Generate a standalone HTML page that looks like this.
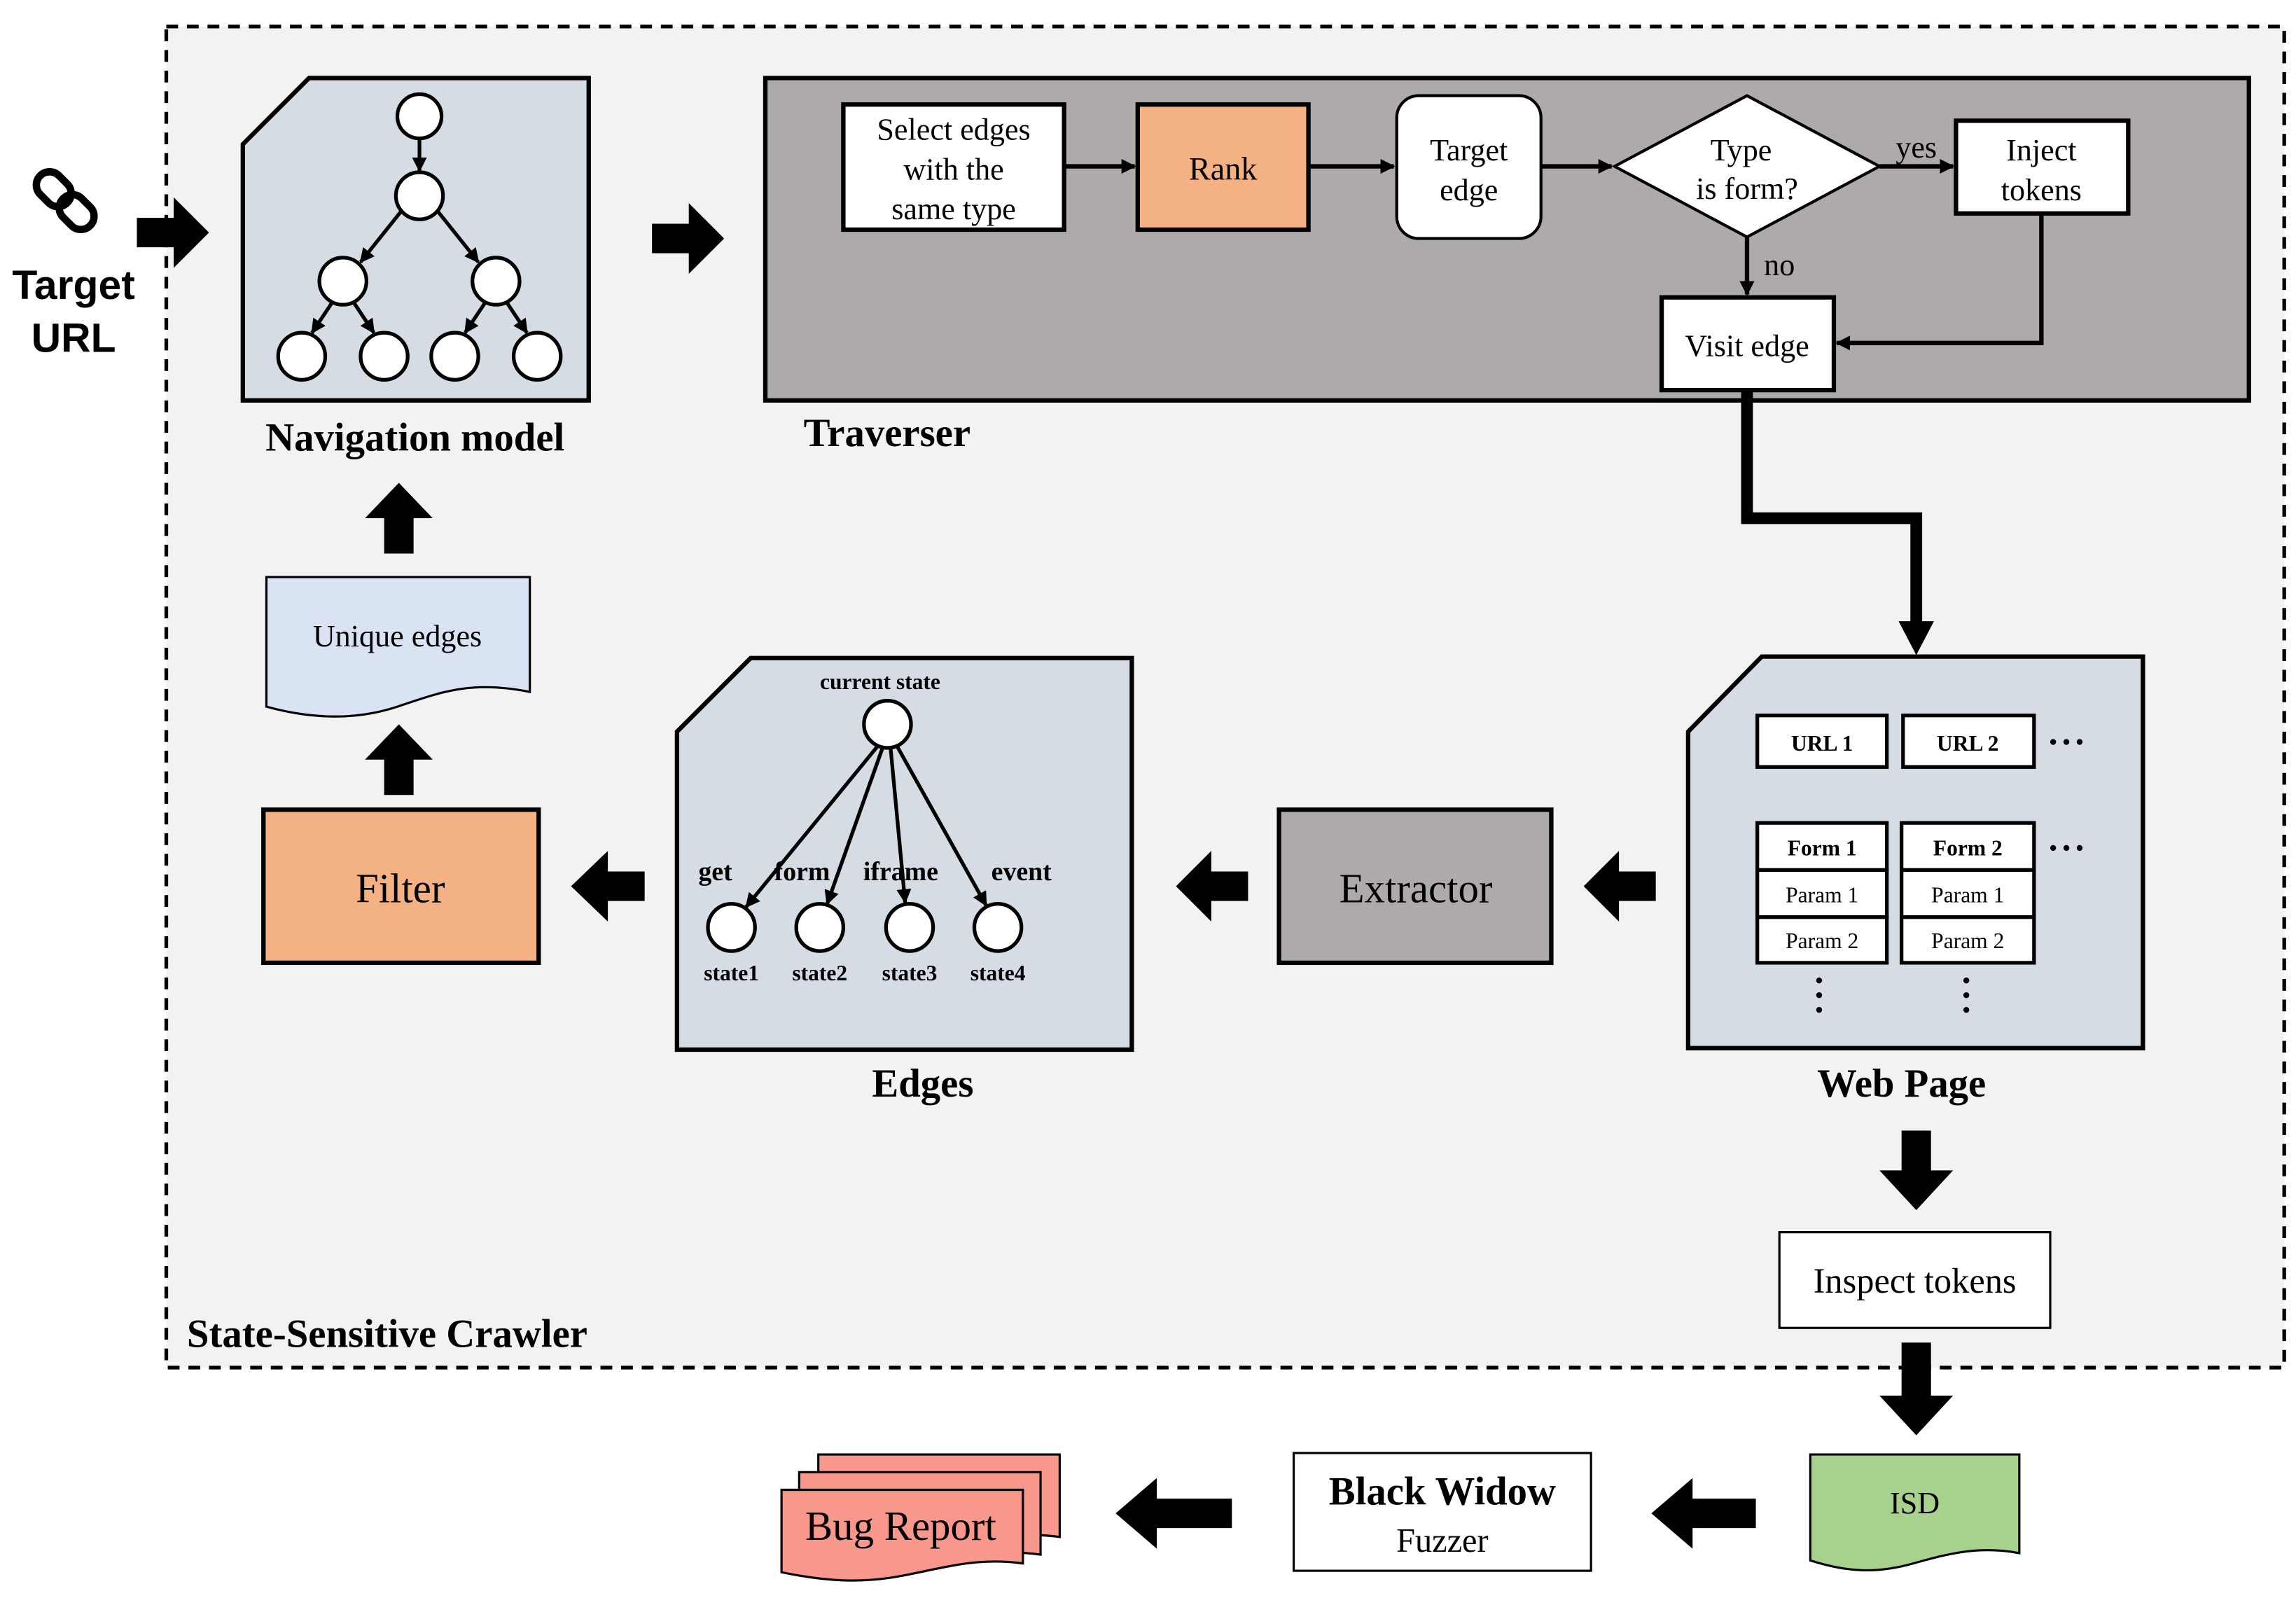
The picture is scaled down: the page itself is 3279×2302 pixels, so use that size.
<!DOCTYPE html>
<html><head><meta charset="utf-8"><style>
html,body{margin:0;padding:0;background:#fff;}
svg{display:block;}
text{font-family:"Liberation Serif",serif;}
</style></head><body>
<svg width="3279" height="2302" viewBox="0 0 1560 1095" preserveAspectRatio="none" xmlns="http://www.w3.org/2000/svg">
<defs>
<marker id="ah" markerWidth="10" markerHeight="10" refX="9" refY="5" orient="auto" markerUnits="userSpaceOnUse"><path d="M0,0 L10,5 L0,10 z" fill="#000"/></marker>
<marker id="ah2" markerWidth="12" markerHeight="12" refX="11" refY="6" orient="auto" markerUnits="userSpaceOnUse"><path d="M0,0 L12,6 L0,12 z" fill="#000"/></marker>
</defs>
<rect x="0" y="0" width="1560" height="1095" fill="#fff"/>
<rect x="113" y="18" width="1439" height="911" fill="#f2f2f2" stroke="#000" stroke-width="2.5" stroke-dasharray="8,6"/>

<!-- link icon -->
<g stroke="#000" stroke-width="5" fill="none" transform="rotate(45 45 137)">
<rect x="20" y="128" width="26" height="18" rx="9"/>
<rect x="42" y="128" width="26" height="18" rx="9"/>
</g>
<text x="50" y="203" font-family="Liberation Sans" font-weight="bold" font-size="28" text-anchor="middle" style="font-family:'Liberation Sans',sans-serif">Target</text>
<text x="50" y="239" font-weight="bold" font-size="28" text-anchor="middle" style="font-family:'Liberation Sans',sans-serif">URL</text>
<polygon points="93,148 118,148 118,134 142,158 118,182 118,168 93,168" fill="#000"/>

<!-- navigation model -->
<polygon points="165,98 210,53 400,53 400,272 165,272" fill="#d6dce4" stroke="#000" stroke-width="3"/>
<g stroke="#000" stroke-width="2.5" fill="none">
<line x1="285" y1="94" x2="285" y2="116" marker-end="url(#ah)"/>
<line x1="273" y1="143" x2="245" y2="178" marker-end="url(#ah)"/>
<line x1="297" y1="143" x2="325" y2="178" marker-end="url(#ah)"/>
<line x1="226" y1="205" x2="212" y2="226" marker-end="url(#ah)"/>
<line x1="240" y1="205" x2="254" y2="226" marker-end="url(#ah)"/>
<line x1="330" y1="205" x2="316" y2="226" marker-end="url(#ah)"/>
<line x1="344" y1="205" x2="358" y2="226" marker-end="url(#ah)"/>
</g>
<g fill="#fff" stroke="#000" stroke-width="2.5">
<circle cx="285" cy="79" r="15"/><circle cx="285" cy="133" r="16"/>
<circle cx="233" cy="191" r="16"/><circle cx="337" cy="191" r="16"/>
<circle cx="205" cy="242" r="16"/><circle cx="261" cy="242" r="16"/>
<circle cx="309" cy="242" r="16"/><circle cx="365" cy="242" r="16"/>
</g>
<text x="282" y="306" font-weight="bold" font-size="27" text-anchor="middle">Navigation model</text>

<polygon points="443,152 468,152 468,138 492,162 468,186 468,172 443,172" fill="#000"/>

<!-- traverser -->
<rect x="520" y="53" width="1008" height="219" fill="#aeaaaa" stroke="#000" stroke-width="3"/>
<text x="546" y="303" font-weight="bold" font-size="27">Traverser</text>
<rect x="573" y="71" width="150" height="85" fill="#fff" stroke="#000" stroke-width="3"/>
<text x="648" y="95" font-size="21" text-anchor="middle">Select edges</text>
<text x="648" y="122" font-size="21" text-anchor="middle">with the</text>
<text x="648" y="149" font-size="21" text-anchor="middle">same type</text>
<rect x="773" y="71" width="116" height="85" fill="#f4b183" stroke="#000" stroke-width="3"/>
<text x="831" y="122" font-size="22" text-anchor="middle">Rank</text>
<rect x="949" y="65" width="98" height="97" rx="15" fill="#fff" stroke="#000" stroke-width="2"/>
<text x="998" y="109" font-size="21" text-anchor="middle">Target</text>
<text x="998" y="136" font-size="21" text-anchor="middle">edge</text>
<polygon points="1097,113 1187,65 1277,113 1187,161" fill="#fff" stroke="#000" stroke-width="2"/>
<text x="1183" y="109" font-size="21" text-anchor="middle">Type</text>
<text x="1187" y="135" font-size="21" text-anchor="middle">is form?</text>
<rect x="1329" y="82" width="117" height="63" fill="#fff" stroke="#000" stroke-width="3"/>
<text x="1387" y="109" font-size="21" text-anchor="middle">Inject</text>
<text x="1387" y="136" font-size="21" text-anchor="middle">tokens</text>
<rect x="1129" y="202" width="117" height="63" fill="#fff" stroke="#000" stroke-width="3"/>
<text x="1187" y="242" font-size="21" text-anchor="middle">Visit edge</text>
<g stroke="#000" stroke-width="3" fill="none">
<line x1="723" y1="113" x2="771" y2="113" marker-end="url(#ah)"/>
<line x1="889" y1="113" x2="947" y2="113" marker-end="url(#ah)"/>
<line x1="1047" y1="113" x2="1095" y2="113" marker-end="url(#ah)"/>
<line x1="1277" y1="113" x2="1327" y2="113" marker-end="url(#ah)"/>
<line x1="1187" y1="161" x2="1187" y2="200" marker-end="url(#ah)"/>
<polyline points="1387,145 1387,233 1248,233" marker-end="url(#ah)"/>
</g>
<text x="1302" y="107" font-size="21" text-anchor="middle">yes</text>
<text x="1209" y="187" font-size="21" text-anchor="middle">no</text>

<polyline points="1187,265 1187,352 1302,352 1302,430" fill="none" stroke="#000" stroke-width="8"/>
<polygon points="1290,422 1314,422 1302,445" fill="#000"/>

<!-- web page -->
<polygon points="1147,497 1197,446 1456,446 1456,712 1147,712" fill="#d6dce4" stroke="#000" stroke-width="3"/>
<text x="1292" y="745" font-weight="bold" font-size="27" text-anchor="middle">Web Page</text>
<g fill="#fff" stroke="#000" stroke-width="2.5">
<rect x="1194" y="486" width="88" height="35"/><rect x="1293" y="486" width="89" height="35"/>
<rect x="1194" y="559" width="88" height="32"/><rect x="1194" y="591" width="88" height="32"/><rect x="1194" y="623" width="88" height="31"/>
<rect x="1292" y="559" width="90" height="32"/><rect x="1292" y="591" width="90" height="32"/><rect x="1292" y="623" width="90" height="31"/>
</g>
<g font-size="15" text-anchor="middle">
<text x="1238" y="510" font-weight="bold">URL 1</text><text x="1337" y="510" font-weight="bold">URL 2</text>
<text x="1238" y="581" font-weight="bold">Form 1</text><text x="1337" y="581" font-weight="bold">Form 2</text>
<text x="1238" y="613">Param 1</text><text x="1337" y="613">Param 1</text>
<text x="1238" y="644">Param 2</text><text x="1337" y="644">Param 2</text>
</g>
<g fill="#000">
<circle cx="1395" cy="504" r="2"/><circle cx="1404" cy="504" r="2"/><circle cx="1413" cy="504" r="2"/>
<circle cx="1395" cy="576" r="2"/><circle cx="1404" cy="576" r="2"/><circle cx="1413" cy="576" r="2"/>
<circle cx="1236" cy="666" r="2"/><circle cx="1236" cy="676" r="2"/><circle cx="1236" cy="686" r="2"/>
<circle cx="1336" cy="666" r="2"/><circle cx="1336" cy="676" r="2"/><circle cx="1336" cy="686" r="2"/>
<circle cx="725" cy="630" r="2"/><circle cx="735" cy="630" r="2"/><circle cx="745" cy="630" r="2"/>
</g>

<!-- extractor -->
<rect x="869" y="550" width="185" height="104" fill="#aeaaaa" stroke="#000" stroke-width="3"/>
<text x="962" y="613" font-size="28" text-anchor="middle">Extractor</text>
<polygon points="1125,592 1100,592 1100,578 1076,602 1100,626 1100,612 1125,612" fill="#000"/>
<polygon points="848,592 823,592 823,578 799,602 823,626 823,612 848,612" fill="#000"/>
<polygon points="438,592 413,592 413,578 388,602 413,626 413,612 438,612" fill="#000"/>

<!-- edges -->
<polygon points="460,497 510,447 769,447 769,713 460,713" fill="#d6dce4" stroke="#000" stroke-width="3"/>
<text x="598" y="468" font-weight="bold" font-size="15" text-anchor="middle">current state</text>
<g stroke="#000" stroke-width="2.5">
<line x1="597" y1="506" x2="507" y2="616" marker-end="url(#ah)"/>
<line x1="600" y1="507" x2="562" y2="614" marker-end="url(#ah)"/>
<line x1="605" y1="507" x2="615" y2="613" marker-end="url(#ah)"/>
<line x1="609" y1="506" x2="670" y2="615" marker-end="url(#ah)"/>
</g>
<g fill="#fff" stroke="#000" stroke-width="2.5">
<circle cx="603" cy="492" r="16"/>
<circle cx="497" cy="630" r="16"/><circle cx="557" cy="630" r="16"/><circle cx="618" cy="630" r="16"/><circle cx="678" cy="630" r="16"/>
</g>
<g font-weight="bold" font-size="18" text-anchor="middle">
<text x="486" y="598">get</text><text x="545" y="598">form</text><text x="612" y="598">iframe</text><text x="694" y="598">event</text>
</g>
<g font-weight="bold" font-size="15" text-anchor="middle">
<text x="497" y="666">state1</text><text x="557" y="666">state2</text><text x="618" y="666">state3</text><text x="678" y="666">state4</text>
</g>
<text x="627" y="745" font-weight="bold" font-size="27" text-anchor="middle">Edges</text>

<!-- filter -->
<rect x="179" y="550" width="187" height="104" fill="#f4b183" stroke="#000" stroke-width="3"/>
<text x="272" y="613" font-size="28" text-anchor="middle">Filter</text>
<polygon points="261,540 261,516 248,516 271,492 294,516 281,516 281,540" fill="#000"/>
<path d="M181,392 L360,392 L360,470 C320,462 300,470 270,480 C240,490 210,488 181,480 Z" fill="#dae3f3" stroke="#000" stroke-width="1.5"/>
<text x="270" y="439" font-size="21" text-anchor="middle">Unique edges</text>
<polygon points="261,376 261,352 248,352 271,328 294,352 281,352 281,376" fill="#000"/>

<text x="127" y="915" font-weight="bold" font-size="27">State-Sensitive Crawler</text>

<!-- lower -->
<polygon points="1292,768 1312,768 1312,795 1327,795 1302,822 1277,795 1292,795" fill="#000"/>
<rect x="1209" y="837" width="184" height="65" fill="#fff" stroke="#000" stroke-width="1.5"/>
<text x="1301" y="878" font-size="24" text-anchor="middle">Inspect tokens</text>
<polygon points="1292,912 1312,912 1312,948 1327,948 1302,975 1277,948 1292,948" fill="#000"/>
<path d="M1230,988 L1372,988 L1372,1055 C1345,1050 1325,1055 1300,1062 C1275,1069 1255,1068 1230,1060 Z" fill="#a9d18e" stroke="#000" stroke-width="1.5"/>
<text x="1301" y="1028" font-size="21" text-anchor="middle">ISD</text>
<polygon points="1193,1018 1150,1018 1150,1004 1122,1028 1150,1052 1150,1038 1193,1038" fill="#000"/>
<rect x="879" y="987" width="202" height="80" fill="#fff" stroke="#000" stroke-width="1.5"/>
<text x="980" y="1022" font-weight="bold" font-size="27" text-anchor="middle">Black Widow</text>
<text x="980" y="1054" font-size="23" text-anchor="middle">Fuzzer</text>
<polygon points="837,1018 786,1018 786,1004 758,1028 786,1052 786,1038 837,1038" fill="#000"/>
<g fill="#f8978b" stroke="#000" stroke-width="1.5">
<path d="M556,988 L720,988 L720,1044 C690,1040 670,1046 640,1052 C610,1058 585,1056 556,1050 Z"/>
<path d="M543,1000 L707,1000 L707,1056 C677,1052 657,1058 627,1064 C597,1070 572,1068 543,1062 Z"/>
<path d="M531,1012 L695,1012 L695,1062 C665,1058 645,1064 615,1070 C585,1076 560,1074 531,1068 Z"/>
</g>
<text x="612" y="1046" font-size="28" text-anchor="middle">Bug Report</text>
</svg>
</body></html>
